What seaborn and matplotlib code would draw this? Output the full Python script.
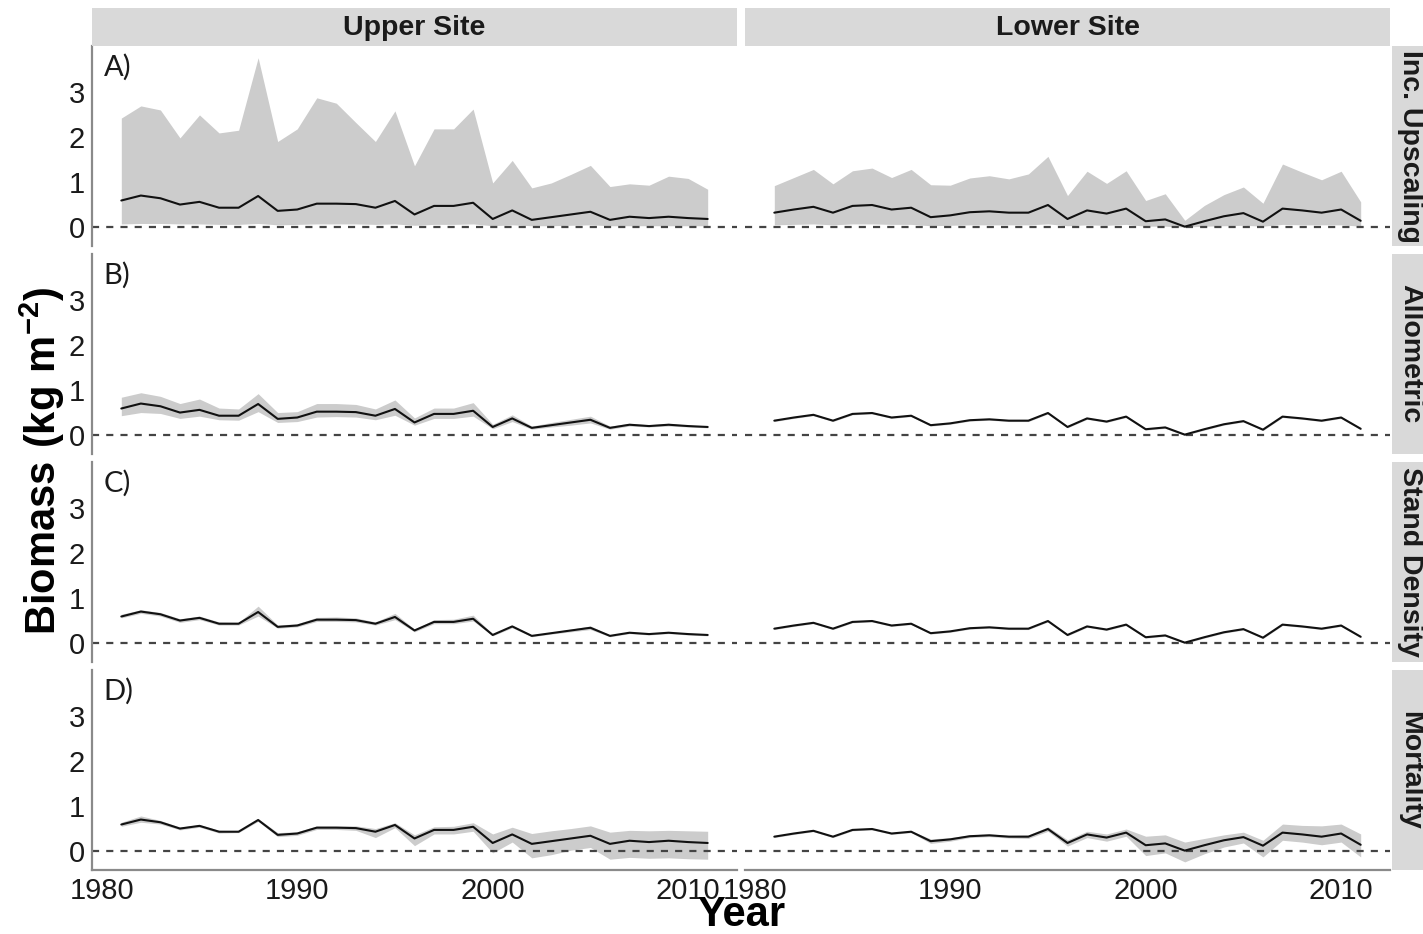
import numpy as np
import pandas as pd
import matplotlib
matplotlib.use("Agg")
import matplotlib.pyplot as plt
import seaborn as sns

sns.set_theme(style="white")
plt.rcParams['font.family'] = ['Liberation Sans', 'DejaVu Sans']
plt.rcParams['mathtext.fontset'] = 'custom'
plt.rcParams['mathtext.rm'] = 'Liberation Sans'
plt.rcParams['mathtext.bf'] = 'Liberation Sans:bold'

# ---------------- data ----------------
years = list(range(1981, 2012))
sites = ["Upper Site", "Lower Site"]
methods = ["Inc. Upscaling", "Allometric", "Stand Density", "Mortality"]
panel_tags = ["A)", "B)", "C)", "D)"]

upper_mean = [0.59, 0.70, 0.64, 0.50, 0.56, 0.43, 0.43, 0.69, 0.36, 0.39, 0.52, 0.52, 0.51, 0.43, 0.58, 0.28,
              0.47, 0.47, 0.54, 0.18, 0.37, 0.16, 0.22, 0.28, 0.34, 0.16, 0.23, 0.20, 0.23, 0.20, 0.18]
lower_mean = [0.32, 0.39, 0.45, 0.32, 0.47, 0.49, 0.39, 0.43, 0.22, 0.26, 0.33, 0.35, 0.32, 0.32, 0.49, 0.18,
              0.37, 0.30, 0.41, 0.13, 0.17, 0.01, 0.13, 0.24, 0.31, 0.12, 0.41, 0.37, 0.32, 0.39, 0.14]

# ribbons, Upper Site
up_inc_hi = [2.42, 2.69, 2.60, 1.98, 2.49, 2.09, 2.15, 3.76, 1.90, 2.18, 2.87, 2.75, 2.32, 1.90, 2.58, 1.36,
             2.18, 2.18, 2.62, 0.98, 1.48, 0.87, 0.98, 1.17, 1.37, 0.90, 0.96, 0.93, 1.13, 1.08, 0.84]
up_inc_lo = [0.07, 0.08, 0.08, 0.07, 0.07, 0.06, 0.06, 0.08, 0.05, 0.06, 0.07, 0.07, 0.07, 0.06, 0.07, 0.04,
             0.06, 0.06, 0.07, 0.03, 0.05, 0.03, 0.03, 0.04, 0.05, 0.03, 0.03, 0.03, 0.03, 0.03, 0.03]
up_all_hi = [0.84, 0.94, 0.86, 0.70, 0.80, 0.60, 0.58, 0.92, 0.50, 0.52, 0.70, 0.70, 0.68, 0.58, 0.78, 0.38,
             0.60, 0.60, 0.72, 0.24, 0.45, 0.20, 0.28, 0.35, 0.42, 0.20, 0.26, 0.23, 0.26, 0.22, 0.20]
up_all_lo = [0.43, 0.50, 0.48, 0.37, 0.42, 0.34, 0.33, 0.52, 0.28, 0.30, 0.40, 0.41, 0.40, 0.34, 0.44, 0.22,
             0.37, 0.37, 0.42, 0.14, 0.30, 0.13, 0.18, 0.22, 0.27, 0.13, 0.20, 0.18, 0.20, 0.18, 0.16]
up_std_hi = [0.64, 0.74, 0.68, 0.54, 0.60, 0.47, 0.46, 0.82, 0.40, 0.43, 0.57, 0.58, 0.56, 0.47, 0.66, 0.31,
             0.52, 0.53, 0.62, 0.20, 0.40, 0.18, 0.24, 0.31, 0.38, 0.18, 0.25, 0.22, 0.25, 0.22, 0.20]
up_std_lo = [0.56, 0.66, 0.60, 0.46, 0.52, 0.40, 0.40, 0.60, 0.33, 0.36, 0.48, 0.48, 0.47, 0.40, 0.52, 0.25,
             0.43, 0.43, 0.49, 0.16, 0.34, 0.14, 0.20, 0.25, 0.30, 0.14, 0.21, 0.18, 0.21, 0.18, 0.16]
up_mor_hi = [0.64, 0.78, 0.68, 0.53, 0.59, 0.46, 0.45, 0.72, 0.41, 0.43, 0.56, 0.56, 0.56, 0.50, 0.63, 0.36,
             0.54, 0.55, 0.63, 0.38, 0.53, 0.39, 0.45, 0.50, 0.56, 0.42, 0.46, 0.45, 0.46, 0.45, 0.44]
up_mor_lo = [0.55, 0.64, 0.60, 0.47, 0.53, 0.40, 0.41, 0.66, 0.32, 0.35, 0.48, 0.48, 0.46, 0.30, 0.52, 0.12,
             0.38, 0.38, 0.44, -0.04, 0.20, -0.15, -0.08, 0.02, 0.08, -0.18, -0.14, -0.16, -0.15, -0.17, -0.18]

# ribbons, Lower Site
lo_inc_hi = [0.92, 1.10, 1.28, 0.96, 1.25, 1.31, 1.10, 1.28, 0.94, 0.93, 1.09, 1.14, 1.07, 1.18, 1.57, 0.70,
             1.24, 0.97, 1.25, 0.59, 0.74, 0.15, 0.48, 0.72, 0.89, 0.53, 1.40, 1.22, 1.05, 1.24, 0.56]
lo_inc_lo = [0.05, 0.06, 0.07, 0.05, 0.07, 0.07, 0.06, 0.06, 0.03, 0.04, 0.05, 0.05, 0.05, 0.05, 0.07, 0.03,
             0.05, 0.04, 0.06, 0.02, 0.02, 0.00, 0.02, 0.03, 0.04, 0.02, 0.06, 0.05, 0.05, 0.05, 0.02]
lo_all_hi = [0.34, 0.41, 0.47, 0.34, 0.49, 0.51, 0.41, 0.45, 0.24, 0.28, 0.35, 0.37, 0.34, 0.34, 0.51, 0.20,
             0.39, 0.32, 0.43, 0.15, 0.19, 0.03, 0.15, 0.26, 0.33, 0.14, 0.43, 0.39, 0.34, 0.41, 0.16]
lo_all_lo = [0.30, 0.37, 0.43, 0.30, 0.45, 0.47, 0.37, 0.41, 0.20, 0.24, 0.31, 0.33, 0.30, 0.30, 0.47, 0.16,
             0.35, 0.28, 0.39, 0.11, 0.15, -0.01, 0.11, 0.22, 0.29, 0.10, 0.39, 0.35, 0.30, 0.37, 0.12]
lo_std_hi = [0.34, 0.41, 0.47, 0.34, 0.49, 0.51, 0.41, 0.45, 0.24, 0.28, 0.35, 0.37, 0.34, 0.34, 0.51, 0.20,
             0.39, 0.32, 0.43, 0.15, 0.19, 0.03, 0.15, 0.26, 0.33, 0.14, 0.43, 0.39, 0.34, 0.41, 0.16]
lo_std_lo = [0.30, 0.37, 0.43, 0.30, 0.45, 0.47, 0.37, 0.41, 0.20, 0.24, 0.31, 0.33, 0.30, 0.30, 0.47, 0.16,
             0.35, 0.28, 0.39, 0.11, 0.15, -0.01, 0.11, 0.22, 0.29, 0.10, 0.39, 0.35, 0.30, 0.37, 0.12]
lo_mor_hi = [0.34, 0.41, 0.47, 0.34, 0.49, 0.51, 0.41, 0.45, 0.27, 0.30, 0.36, 0.38, 0.35, 0.36, 0.54, 0.25,
             0.44, 0.38, 0.49, 0.33, 0.36, 0.20, 0.28, 0.36, 0.42, 0.24, 0.60, 0.57, 0.56, 0.60, 0.38]
lo_mor_lo = [0.30, 0.37, 0.43, 0.30, 0.45, 0.47, 0.37, 0.41, 0.17, 0.22, 0.30, 0.32, 0.29, 0.28, 0.44, 0.11,
             0.30, 0.22, 0.33, -0.10, -0.04, -0.24, -0.06, 0.09, 0.18, -0.13, 0.24, 0.20, 0.14, 0.20, -0.13]

x_ticks = [1980, 1990, 2000, 2010]
y_ticks = [0, 1, 2, 3]

means = {"Upper Site": upper_mean, "Lower Site": lower_mean}
ribbons = {
    ("Upper Site", "Inc. Upscaling"): (up_inc_lo, up_inc_hi),
    ("Upper Site", "Allometric"): (up_all_lo, up_all_hi),
    ("Upper Site", "Stand Density"): (up_std_lo, up_std_hi),
    ("Upper Site", "Mortality"): (up_mor_lo, up_mor_hi),
    ("Lower Site", "Inc. Upscaling"): (lo_inc_lo, lo_inc_hi),
    ("Lower Site", "Allometric"): (lo_all_lo, lo_all_hi),
    ("Lower Site", "Stand Density"): (lo_std_lo, lo_std_hi),
    ("Lower Site", "Mortality"): (lo_mor_lo, lo_mor_hi),
}

rows = []
for s in sites:
    for m in methods:
        lo, hi = ribbons[(s, m)]
        for i, y in enumerate(years):
            rows.append(dict(site=s, method=m, year=y, mean=means[s][i], lo=lo[i], hi=hi[i]))
df = pd.DataFrame(rows)

# ---------------- layout ----------------
W, H = 1423, 934
fig = plt.figure(figsize=(W / 100, H / 100), dpi=100)

col_x = [(92, 737), (745, 1390)]
row_y = [(46, 246), (254, 454), (462, 662), (670, 870)]

def frac_rect(x0, x1, y0, y1):
    return [x0 / W, 1 - y1 / H, (x1 - x0) / W, (y1 - y0) / H]

axis_gray = "#8a8a8a"
strip_bg = "#d9d9d9"
text_col = "#1a1a1a"

for ci, s in enumerate(sites):
    for ri, m in enumerate(methods):
        x0, x1 = col_x[ci]
        y0, y1 = row_y[ri]
        ax = fig.add_axes(frac_rect(x0, x1, y0, y1))
        d = df[(df.site == s) & (df.method == m)]
        ax.fill_between(d["year"], d["lo"], d["hi"], color="#cccccc", lw=0, zorder=1)
        sns.lineplot(data=d, x="year", y="mean", ax=ax, color="#111111", lw=1.5, zorder=3,
                     errorbar=None, legend=False)
        ax.axhline(0, color="#444444", lw=1.6, ls=(0, (3.2, 3.2)), zorder=2)
        ax.set_xlim(1979.5, 2012.5)
        ax.set_ylim(-0.42, 4.02)
        ax.set_xlabel("")
        ax.set_ylabel("")
        ax.set_facecolor("white")
        for sp in ax.spines.values():
            sp.set_visible(False)
        ax.set_xticks(x_ticks)
        ax.set_yticks(y_ticks)
        ax.tick_params(axis="both", colors=axis_gray, length=4, width=1.0,
                       labelsize=21, labelcolor=text_col, pad=1)
        if ci == 0:
            ax.spines["left"].set_visible(True)
            ax.spines["left"].set_color(axis_gray)
            ax.spines["left"].set_linewidth(1.6)
            ax.text(0.018, 0.96, panel_tags[ri], transform=ax.transAxes, ha="left", va="top",
                    fontsize=21, color=text_col, family=["Lato", "DejaVu Sans"])
        else:
            ax.tick_params(axis="y", left=False, labelleft=False)
        if ri == len(methods) - 1:
            ax.spines["bottom"].set_visible(True)
            ax.spines["bottom"].set_color(axis_gray)
            ax.spines["bottom"].set_linewidth(1.6)
            ax.set_xticklabels([str(v) for v in x_ticks])
        else:
            ax.tick_params(axis="x", bottom=False, labelbottom=False)

# column strips
for ci, s in enumerate(sites):
    x0, x1 = col_x[ci]
    sax = fig.add_axes(frac_rect(x0, x1, 8, 46))
    sax.set_facecolor(strip_bg)
    sax.set_xticks([]); sax.set_yticks([])
    for sp in sax.spines.values():
        sp.set_visible(False)
    sax.text(0.5, 0.47, s, ha="center", va="center", fontsize=20.5, fontweight="bold",
             color=text_col, transform=sax.transAxes)

# row strips
for ri, m in enumerate(methods):
    y0, y1 = row_y[ri]
    sax = fig.add_axes(frac_rect(1392, 1432, y0, y1))
    sax.set_facecolor(strip_bg)
    sax.set_xticks([]); sax.set_yticks([])
    for sp in sax.spines.values():
        sp.set_visible(False)
    sax.text(0.45, 0.5, m, ha="center", va="center", rotation=270, fontsize=20.5,
             fontweight="bold", color=text_col, transform=sax.transAxes)

# axis titles
fig.text(42 / W, 1 - 461 / H, r"$\mathbf{Biomass\ (kg\ m^{-2})}$", rotation=90,
         ha="center", va="center", fontsize=30, color="black")
fig.text(741 / W, 1 - 915 / H, "Year", ha="center", va="center", fontsize=30,
         fontweight="bold", color="black")

fig.savefig("out.png", dpi=100, facecolor="white")
